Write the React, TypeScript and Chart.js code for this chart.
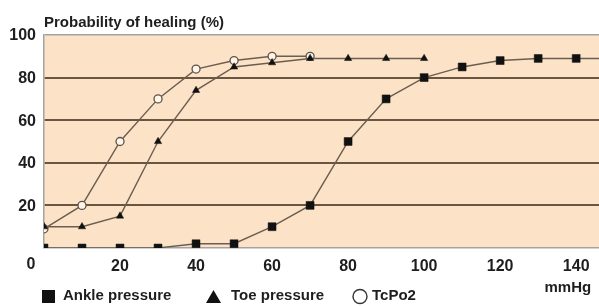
import React, { useEffect, useRef } from 'react';
import { Chart, registerables } from 'chart.js';

Chart.register(...registerables);

// ---- data ----
const pressureTicks = [0, 20, 40, 60, 80, 100, 120, 140];
const percentTicks = [0, 20, 40, 60, 80, 100];

const anklePressure = [0, 10, 20, 30, 40, 50, 60, 70, 80, 90, 100, 110, 120, 130, 140, 150];
const ankleHealing = [0, 0, 0, 0, 2, 2, 10, 20, 50, 70, 80, 85, 88, 89, 89, 89];

const toePressure = [0, 10, 20, 30, 40, 50, 60, 70, 80, 90, 100];
const toeHealing = [10, 10, 15, 50, 74, 85, 87, 89, 89, 89, 89];

const tcpo2Pressure = [0, 10, 20, 30, 40, 50, 60, 70];
const tcpo2Healing = [9, 20, 50, 70, 84, 88, 90, 90];

const seriesLabels = ['Ankle pressure', 'Toe pressure', 'TcPo2'];
const yTitle = 'Probability of healing (%)';
const xUnit = 'mmHg';

// ---- styles ----
const FONT = '"Liberation Sans", Arial, Helvetica, sans-serif';
const LINE = '#6b5d4f';
const MARK = '#111111';
const PLOT_BG = '#fce3c8';
const GRID = '#6a5540';
const FRAME = '#a3a3a3';
const TEXT = '#1e1e1e';

const pairs = (xs: number[], ys: number[]) => xs.map((x, i) => ({ x, y: ys[i] }));

const bgPlugin = {
  id: 'plotBg',
  beforeDraw(chart: any) {
    const { ctx, chartArea } = chart;
    ctx.save();
    ctx.fillStyle = PLOT_BG;
    ctx.fillRect(chartArea.left, chartArea.top, chartArea.right - chartArea.left, chartArea.bottom - chartArea.top);
    ctx.restore();
  },
};

const extrasPlugin = {
  id: 'extras',
  afterDraw(chart: any) {
    const { ctx, chartArea } = chart;
    const xs = chart.scales.x;
    ctx.save();
    ctx.fillStyle = TEXT;
    // origin label
    ctx.font = `bold 16px ${FONT}`;
    ctx.textAlign = 'center';
    ctx.textBaseline = 'middle';
    ctx.fillText(String(pressureTicks[0]), chartArea.left - 13, chartArea.bottom + 16.5);
    // unit label
    ctx.font = `bold 15px ${FONT}`;
    ctx.textAlign = 'right';
    ctx.fillText(xUnit, xs.getPixelForValue(pressureTicks[pressureTicks.length - 1]) + 15, 288);

    // legend
    const itemX = [42, 206, 352.5];
    const textX = [63, 231, 372];
    const cy = 296.5;
    ctx.font = `bold 15px ${FONT}`;
    ctx.textAlign = 'left';
    chart.data.datasets.forEach((ds: any, i: number) => {
      const x0 = itemX[i];
      ctx.save();
      if (ds.pointStyle === 'rect') {
        ctx.fillStyle = MARK;
        ctx.fillRect(x0, cy - 6.5, 13, 13);
      } else if (ds.pointStyle === 'triangle') {
        ctx.fillStyle = MARK;
        ctx.beginPath();
        ctx.moveTo(x0, cy + 6.5);
        ctx.lineTo(x0 + 15, cy + 6.5);
        ctx.lineTo(x0 + 7.5, cy - 6.5);
        ctx.closePath();
        ctx.fill();
      } else {
        ctx.strokeStyle = '#333333';
        ctx.lineWidth = 1.4;
        ctx.fillStyle = '#ffffff';
        ctx.beginPath();
        ctx.arc(x0 + 7.5, cy, 7, 0, Math.PI * 2);
        ctx.fill();
        ctx.stroke();
      }
      ctx.restore();
      ctx.fillStyle = TEXT;
      ctx.textBaseline = 'middle';
      ctx.fillText(ds.label, textX[i], 295.7);
    });
    ctx.restore();
  },
};

export default function App() {
  const ref = useRef<HTMLCanvasElement | null>(null);

  useEffect(() => {
    if (!ref.current) return;
    const chart = new Chart(ref.current, {
      type: 'line',
      data: {
        datasets: [
          {
            label: seriesLabels[0],
            data: pairs(anklePressure, ankleHealing),
            borderColor: LINE,
            borderWidth: 1.4,
            pointStyle: 'rect',
            pointRadius: 5.6,
            pointBackgroundColor: MARK,
            pointBorderColor: MARK,
            pointBorderWidth: 0.5,
            tension: 0,
          },
          {
            label: seriesLabels[1],
            data: pairs(toePressure, toeHealing),
            borderColor: LINE,
            borderWidth: 1.4,
            pointStyle: 'triangle',
            pointRadius: 4.2,
            pointBackgroundColor: MARK,
            pointBorderColor: MARK,
            pointBorderWidth: 0.5,
            tension: 0,
          },
          {
            label: seriesLabels[2],
            data: pairs(tcpo2Pressure, tcpo2Healing),
            borderColor: LINE,
            borderWidth: 1.4,
            pointStyle: 'circle',
            pointRadius: 4,
            pointBackgroundColor: '#fff5ea',
            pointBorderColor: '#5e5246',
            pointBorderWidth: 1.3,
            tension: 0,
          },
        ],
      },
      options: {
        animation: false,
        responsive: false,
        maintainAspectRatio: false,
        layout: { autoPadding: false, padding: { left: 1.3, right: 0, top: 0, bottom: 21.6 } },
        plugins: {
          legend: { display: false },
          tooltip: { enabled: false },
          title: {
            display: true,
            text: yTitle,
            align: 'start',
            fullSize: false,
            color: TEXT,
            font: { family: FONT, size: 15, weight: 'bold' },
            padding: { top: 13.5, bottom: 3.5 },
          },
        },
        scales: {
          x: {
            type: 'linear',
            min: 0,
            max: 146,
            afterBuildTicks: (axis: any) => {
              axis.ticks = pressureTicks.map((v) => ({ value: v }));
            },
            afterFit: (axis: any) => {
              axis.paddingRight = 0;
              axis.paddingLeft = 0;
            },
            ticks: {
              padding: 8.6,
              color: TEXT,
              font: { family: FONT, size: 16, weight: 'bold' },
              callback: (v: any) => (v === 0 ? '' : String(v)),
              maxRotation: 0,
              autoSkip: false,
            },
            grid: { display: false, drawTicks: false },
            border: { display: false },
          },
          y: {
            type: 'linear',
            min: 0,
            max: 100,
            afterBuildTicks: (axis: any) => {
              axis.ticks = percentTicks.map((v) => ({ value: v }));
            },
            ticks: {
              padding: 8,
              color: TEXT,
              labelOffset: 1,
              font: { family: FONT, size: 16, weight: 'bold' },
              callback: (v: any) => (v === 0 ? '' : String(v)),
            },
            grid: {
              drawTicks: false,
              color: (c: any) => (c.tick && (c.tick.value === 0 || c.tick.value === 100) ? FRAME : GRID),
              lineWidth: (c: any) => (c.tick && (c.tick.value === 0 || c.tick.value === 100) ? 1.5 : 2),
            },
            border: { display: true, color: FRAME, width: 1.5 },
          },
        },
      },
      plugins: [bgPlugin, extrasPlugin],
    });
    return () => chart.destroy();
  }, []);

  return (
    <div style={{ position: 'absolute', left: 0, top: 0, width: 599, height: 306 }}>
      <canvas ref={ref} width={599} height={306} style={{ display: 'block', width: 599, height: 306 }} />
    </div>
  );
}
